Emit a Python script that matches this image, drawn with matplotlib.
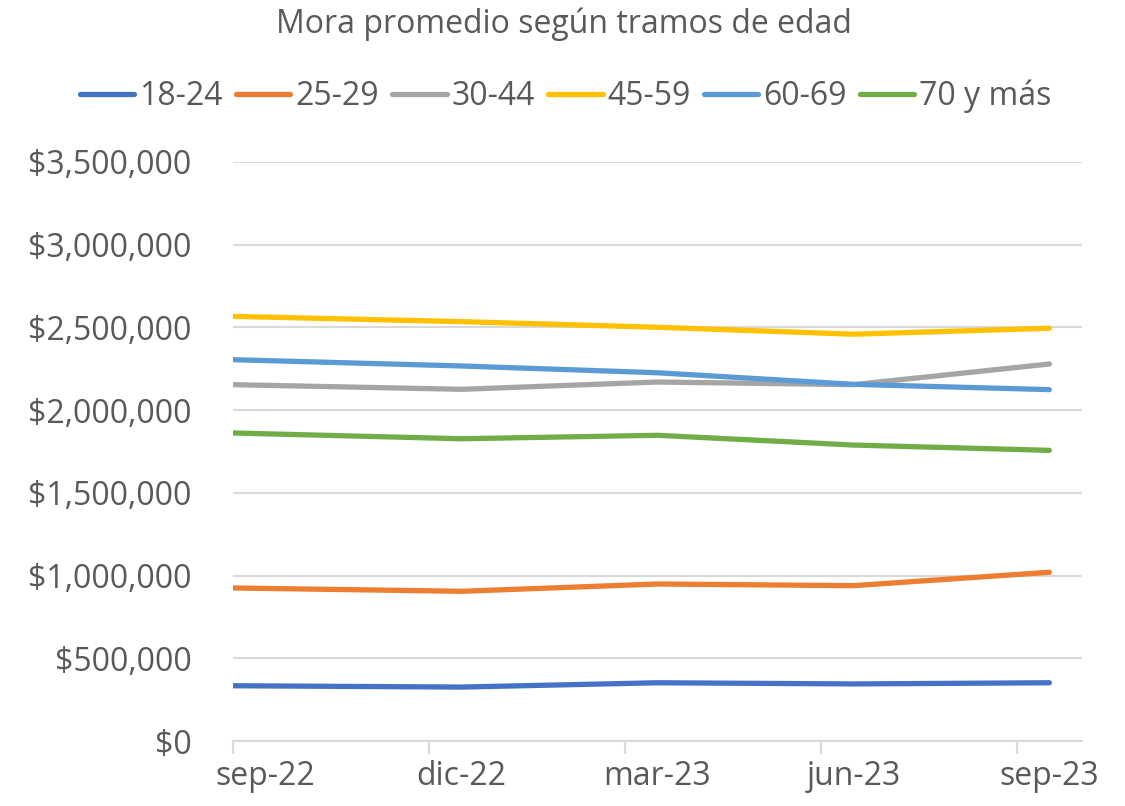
import matplotlib.pyplot as plt
from matplotlib.ticker import FuncFormatter, FixedLocator

plt.rcParams['font.family'] = ['Open Sans', 'DejaVu Sans']

# periods and values
periodos = ['sep-22', 'dic-22', 'mar-23', 'jun-23', 'sep-23']
mes = [0, 3.5, 6.5, 9.5, 12.5]   # month offset from sep-22 on the date axis
tramos = ['18-24', '25-29', '30-44', '45-59', '60-69', '70 y más']
mora_18_24 = [334000, 326000, 352000, 345000, 352000]
mora_25_29 = [925000, 905000, 949000, 939000, 1020000]
mora_30_44 = [2154000, 2126000, 2170000, 2154000, 2279000]
mora_45_59 = [2567000, 2535000, 2501000, 2459000, 2495000]
mora_60_69 = [2305000, 2267000, 2226000, 2156000, 2124000]
mora_70 = [1862000, 1827000, 1848000, 1789000, 1757000]
series = [mora_18_24, mora_25_29, mora_30_44, mora_45_59, mora_60_69, mora_70]
colores = ['#4472C4', '#ED7D31', '#A5A5A5', '#FFC000', '#5B9BD5', '#70AD47']

txt = '#595959'
grid = '#D9D9D9'

fig = plt.figure(figsize=(11.25, 8.06), dpi=100)
ax = fig.add_axes([233/1125, 1 - 741/806, (1082 - 233)/1125, (741 - 162)/806])

for nombre, vals, c in zip(tramos, series, colores):
    ax.plot(mes, vals, color=c, lw=3.8, solid_capstyle='round', label=nombre)

ax.set_xlim(0, 13)
ax.set_ylim(0, 3500000)
ax.yaxis.set_major_locator(FixedLocator(range(0, 3500001, 500000)))
ax.yaxis.set_major_formatter(FuncFormatter(lambda v, p: f'${v:,.0f}'))
ax.grid(axis='y', color=grid, lw=1.5)
ax.set_axisbelow(True)
for s in ['left', 'right', 'top']:
    ax.spines[s].set_visible(False)
ax.spines['bottom'].set_color(grid)
ax.spines['bottom'].set_linewidth(1.5)

# tick marks at quarter boundaries, labels centred on the month slot
ax.set_xticks([0, 3, 6, 9, 12])
ax.set_xticklabels([])
ax.tick_params(axis='x', length=9, width=1.5, color=grid)
for i, p in enumerate(periodos):
    ax.text(i * 3 + 0.5, -0.032, p, transform=ax.get_xaxis_transform(),
            ha='center', va='top', fontsize=23, color=txt)
ax.tick_params(axis='y', length=0, pad=30, labelsize=23, labelcolor=txt)

fig.text(0.501, 0.970, 'Mora promedio según tramos de edad', ha='center', va='center',
         fontsize=23, color=txt)
fig.legend(loc='center', bbox_to_anchor=(0.503, 0.880), ncol=6, frameon=False,
           fontsize=23, labelcolor=txt, handlelength=1.7, handletextpad=0.15,
           columnspacing=0.42)

fig.savefig('out.png', dpi=100)
